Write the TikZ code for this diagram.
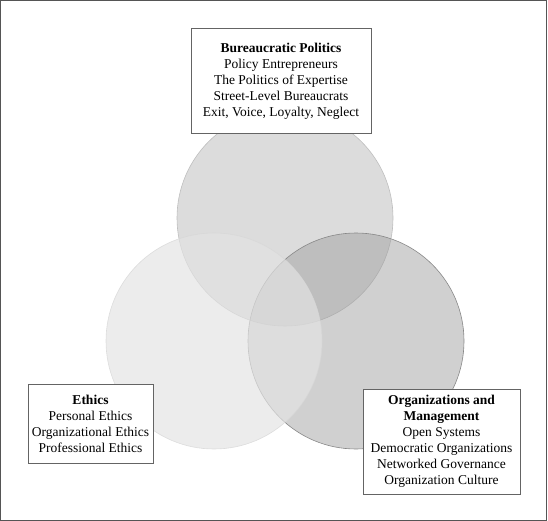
\documentclass[tikz,border=0pt]{standalone}
\usepackage{fontspec}
\setmainfont{Liberation Serif}
\definecolor{framegray}{RGB}{85,85,85}
\definecolor{boxgray}{RGB}{100,100,100}
\definecolor{topfill}{RGB}{220,220,220}
\definecolor{topline}{RGB}{190,190,190}
\definecolor{rightfill}{RGB}{159,159,159}
\definecolor{rightline}{RGB}{135,135,135}
\definecolor{leftfill}{RGB}{227,227,227}
\definecolor{leftline}{RGB}{215,215,215}
\begin{document}
\begin{tikzpicture}[x=1pt,y=-1pt,
  disc/.style={circle, minimum size=216pt, inner sep=0pt, line width=0.6pt},
  box/.style={draw=boxgray, line width=1pt, fill=white, align=center, inner sep=0pt,
              font=\fontsize{13.5}{16}\selectfont},
]
\useasboundingbox (0,0) rectangle (548,521);
\draw[line width=1.4pt, draw=framegray] (0.7,0.7) rectangle (546.6,520.3);

\node[disc, fill=topfill, draw=topline] (top) at (285,218) {};
\node[disc, fill=rightfill, fill opacity=0.486, draw=rightline] (right) at (356,341) {};
\node[disc, fill=leftfill, fill opacity=0.686, draw=leftline, draw opacity=0.8] (left) at (214,341) {};

\node[box, minimum width=180pt, minimum height=105pt] (bp) at (281,81.5)
  {\textbf{Bureaucratic Politics}\\Policy Entrepreneurs\\The Politics of Expertise\\Street-Level Bureaucrats\\Exit, Voice, Loyalty, Neglect};
\node[box, minimum width=125pt, minimum height=79pt] (eth) at (90.5,423.5)
  {\textbf{Ethics}\\Personal Ethics\\Organizational Ethics\\Professional Ethics};
\node[box, minimum width=157pt, minimum height=105pt] (om) at (441.5,441.5)
  {\textbf{Organizations and}\\\textbf{Management}\\Open Systems\\Democratic Organizations\\Networked Governance\\Organization Culture};
\end{tikzpicture}
\end{document}
